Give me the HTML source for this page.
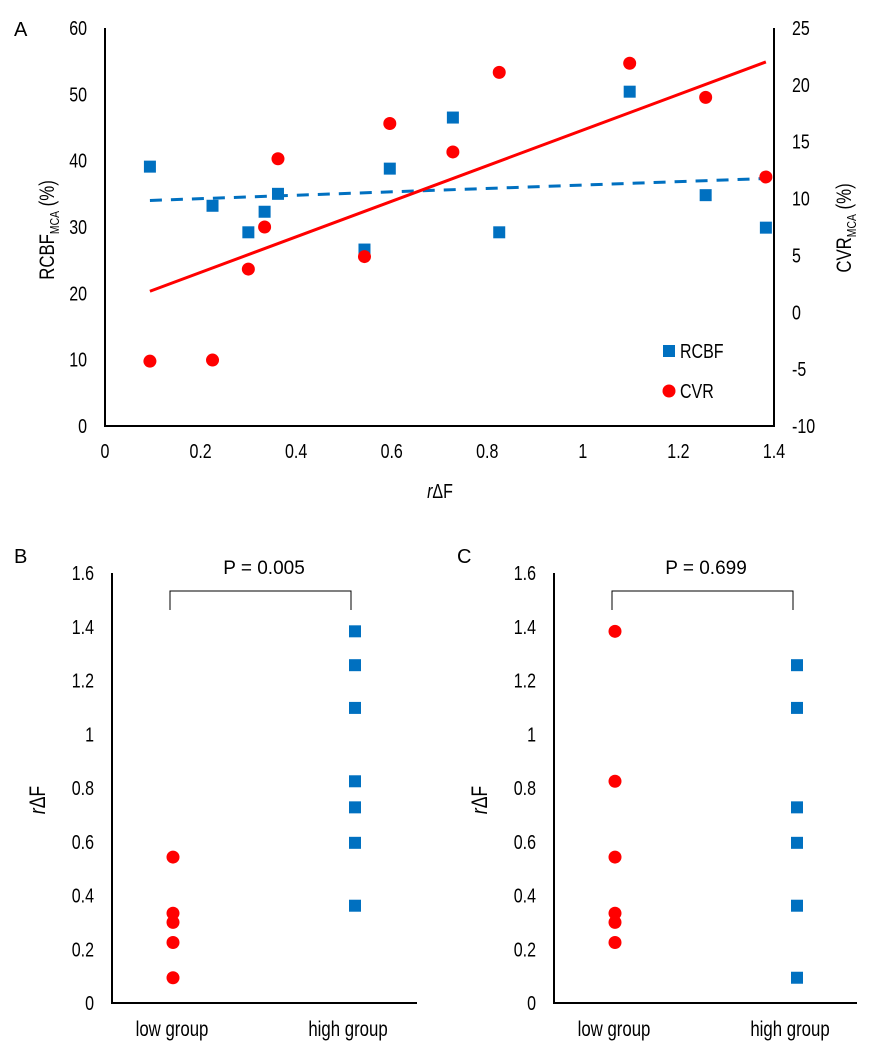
<!DOCTYPE html>
<html><head><meta charset="utf-8"><style>
html,body{margin:0;padding:0;background:#fff;}
svg{display:block;font-family:"Liberation Sans",sans-serif;}
</style></head><body>
<svg id="fig" width="886" height="1063" viewBox="0 0 886 1063" xmlns="http://www.w3.org/2000/svg">
<text x="14" y="36" font-size="20">A</text>
<text x="14" y="563" font-size="20">B</text>
<text x="457" y="563" font-size="20">C</text>
<g id="pa"></g>
<g id="pb"></g>
<g id="pc"></g>
</svg>
<script>
const rdf = [0.094,0.225,0.30,0.334,0.362,0.543,0.596,0.728,0.825,1.098,1.257,1.383];
const rcbf = [39.1,33.2,29.2,32.3,35.0,26.6,38.8,46.5,29.2,50.4,34.8,29.9];
const cvr = [-4.3,-4.2,3.8,7.5,13.5,4.9,16.6,14.1,21.1,21.9,18.9,11.9];
const xTicksA = ["0","0.2","0.4","0.6","0.8","1","1.2","1.4"];
const yLeftTicks = ["0","10","20","30","40","50","60"];
const yRightTicks = ["-10","-5","0","5","10","15","20","25"];
const bLow = [0.543,0.334,0.30,0.225,0.094];
const bHigh = [1.383,1.257,1.098,0.825,0.728,0.596,0.362];
const cLow = [1.383,0.825,0.543,0.334,0.30,0.225];
const cHigh = [1.257,1.098,0.728,0.596,0.362,0.094];
const groupTicks = ["0","0.2","0.4","0.6","0.8","1","1.2","1.4","1.6"];
const groupNames = ["low group","high group"];
const pB = "P = 0.005";
const pC = "P = 0.699";

const NS="http://www.w3.org/2000/svg";
const RED="#ff0000", BLUE="#0070c0";
const SX=0.8;
function mk(parent,tag,attrs,txt){
  const e=document.createElementNS(NS,tag);
  for(const k in attrs) e.setAttribute(k,attrs[k]);
  if(txt!==undefined) e.textContent=txt;
  parent.appendChild(e); return e;
}
function ntext(parent,x,y,size,anchor,txt,rot){
  const tr=rot?`translate(${x},${y}) rotate(-90) scale(${SX},1)`:`translate(${x},${y}) scale(${SX},1)`;
  return mk(parent,'text',{transform:tr,x:0,y:0,'font-size':size,'text-anchor':anchor},txt);
}
function sq(g,cx,cy){
  const e=mk(g,'rect',{x:cx-6,y:cy-6,width:12,height:12,fill:BLUE});
  
  
}
function dot(g,cx,cy){
  const e=mk(g,'circle',{cx:cx,cy:cy,r:6.5,fill:RED});
  
  
}
function fit(xs,ys){
  const n=xs.length; let mx=0,my=0; for(let i=0;i<n;i++){mx+=xs[i];my+=ys[i];} mx/=n;my/=n;
  let sxy=0,sxx=0; for(let i=0;i<n;i++){sxy+=(xs[i]-mx)*(ys[i]-my);sxx+=(xs[i]-mx)**2;}
  const b=sxy/sxx; return [my-b*mx,b];
}
(function(){
  const g=document.getElementById('pa');
  const X0=105,X1=774,Y0=426,Y1=28;
  const sx=v=>X0+(v/1.4)*(X1-X0);
  const syL=v=>Y0-(v/60)*(Y0-Y1);
  const syR=v=>Y0-((v+10)/35)*(Y0-Y1);
  let e=mk(g,'path',{d:`M${X0},${Y1} V${Y0} H${X1} V${Y1}`,fill:'none',stroke:'#000','stroke-width':2});
   
  xTicksA.forEach(t=>{const v=parseFloat(t);
    const el=ntext(g,sx(v),458,20,'middle',t);
     });
  yLeftTicks.forEach(t=>{const v=parseFloat(t);
    const el=ntext(g,87,syL(v)+7,20,'end',t);
     });
  yRightTicks.forEach(t=>{const v=parseFloat(t);
    const el=ntext(g,792,syR(v)+7,20,'start',t);
     });
  let t=ntext(g,440,498,20,'middle');
   
  t.innerHTML='<tspan font-style="italic">r</tspan>ΔF';
  t=ntext(g,54,230,21,'middle',undefined,true);
   
  t.innerHTML='RCBF<tspan font-size="13" dy="5">MCA</tspan><tspan dy="-5"> (%)</tspan>';
  t=ntext(g,851,228,21,'middle',undefined,true);
   
  t.innerHTML='CVR<tspan font-size="13" dy="5">MCA</tspan><tspan dy="-5"> (%)</tspan>';
  const xmin=Math.min(...rdf), xmax=Math.max(...rdf);
  const [ab,bb]=fit(rdf,rcbf);
  e=mk(g,'line',{x1:sx(xmin),y1:syL(ab+bb*xmin),x2:sx(xmax),y2:syL(ab+bb*xmax),stroke:BLUE,'stroke-width':3,'stroke-dasharray':'12,9'});
   
  const [ac,bc]=fit(rdf,cvr);
  e=mk(g,'line',{x1:sx(xmin),y1:syR(ac+bc*xmin),x2:sx(xmax),y2:syR(ac+bc*xmax),stroke:RED,'stroke-width':3});
   
  rdf.forEach((x,i)=>sq(g,sx(x),syL(rcbf[i])));
  rdf.forEach((x,i)=>dot(g,sx(x),syR(cvr[i])));
  const lg=mk(g,'g',{});
   
  sq(lg,669,351); dot(lg,669,391);
  e=ntext(lg,680,358,20,'start','RCBF');  
  e=ntext(lg,680,398,20,'start','CVR');  
})();
function groupPanel(id,L,R,lowX,highX,low,high,ptxt){
  const g=document.getElementById(id);
  const Y0=1003,Y1=573;
  const sy=v=>Y0-(v/1.6)*(Y0-Y1);
  let e=mk(g,'path',{d:`M${L},${Y1} V${Y0} H${R}`,fill:'none',stroke:'#000','stroke-width':2});
   
  groupTicks.forEach(t=>{const v=parseFloat(t);
    const el=ntext(g,L-18,sy(v)+7,20,'end',t);
     });
  e=ntext(g,lowX-1,1036,21,'middle',groupNames[0]);
   
  e=ntext(g,highX-7,1036,21,'middle',groupNames[1]);
   
  let t=ntext(g,L-67,800,22,'middle',undefined,true);
   
  t.innerHTML='<tspan font-style="italic">r</tspan>ΔF';
  e=mk(g,'path',{d:`M${lowX-3},610 V591 H${highX-4} V610`,fill:'none',stroke:'#000','stroke-width':1});
   
  e=mk(g,'text',{x:(lowX+highX)/2,y:574,'font-size':19,'text-anchor':'middle'},ptxt);
   
  low.forEach(v=>dot(g,lowX,sy(v)));
  high.forEach(v=>sq(g,highX,sy(v)));
}
groupPanel('pb',112,417,173,355,bLow,bHigh,pB);
groupPanel('pc',554,857,615,797,cLow,cHigh,pC);
</script>
</body></html>
